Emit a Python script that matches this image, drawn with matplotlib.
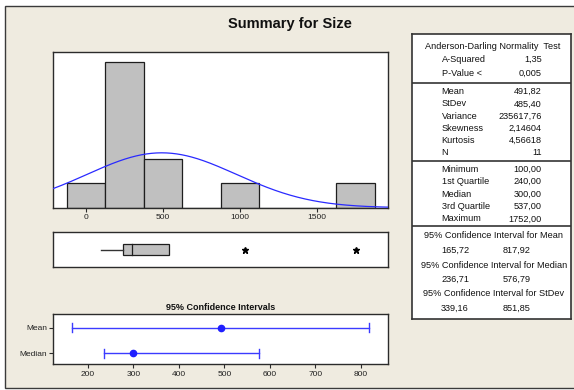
import numpy as np
import matplotlib
matplotlib.use("Agg")
import matplotlib.pyplot as plt
from matplotlib.patches import Rectangle

plt.rcParams['font.family'] = ['Liberation Sans', 'DejaVu Sans']

# ---- data -------------------------------------------------------------
bin_centers = [0, 250, 500, 750, 1000, 1250, 1500, 1750]
bin_counts = [1, 6, 2, 0, 1, 0, 0, 1]
bin_width = 250
hist_ticks = [0, 500, 1000, 1500]

mean_val = 491.82
stdev_val = 485.40
n_obs = 11

box_whisker_lo = 100.0
box_q1 = 240.0
box_median = 300.0
box_q3 = 537.0
box_whisker_hi = 537.0
box_outliers = [1030, 1752]

ci_labels = ["Mean", "Median"]
ci_points = [491.82, 300.00]
ci_lower = [165.72, 236.71]
ci_upper = [817.92, 576.79]
ci_ticks = [200, 300, 400, 500, 600, 700, 800]

ad_rows = [("A-Squared", "1,35"), ("P-Value <", "0,005")]
moment_rows = [("Mean", "491,82"), ("StDev", "485,40"), ("Variance", "235617,76"),
               ("Skewness", "2,14604"), ("Kurtosis", "4,56618"), ("N", "11")]
quantile_rows = [("Minimum", "100,00"), ("1st Quartile", "240,00"), ("Median", "300,00"),
                 ("3rd Quartile", "537,00"), ("Maximum", "1752,00")]
ci_table = [("95% Confidence Interval for Mean", "165,72", "817,92"),
            ("95% Confidence Interval for Median", "236,71", "576,79"),
            ("95% Confidence Interval for StDev", "339,16", "851,85")]

# ---- layout helpers ---------------------------------------------------
W, H = 574, 390
fig = plt.figure(figsize=(W / 100, H / 100), dpi=100)
fig.patch.set_facecolor("white")

def px_axes(x0, y0, x1, y1, **kw):
    """Axes from pixel box (top-left origin)."""
    ax = fig.add_axes([x0 / W, 1 - y1 / H, (x1 - x0) / W, (y1 - y0) / H], **kw)
    ax.set_zorder(5)
    return ax

bg = "#EFEBE0"
edge = "#2b2b2b"
frame = Rectangle((5 / W, 1 - 388 / H), (600 - 5) / W, (388 - 6) / H,
                  transform=fig.transFigure, facecolor=bg,
                  edgecolor="#3a3a3a", lw=1.0, zorder=-10)
fig.patches.append(frame)

fig.text(290 / W, 1 - 24 / H, "Summary for Size", ha="center", va="center",
         fontsize=10.5, fontweight="bold", color="#111111", zorder=6)

tick_fs = 6.0

def style_spines(ax):
    for s in ax.spines.values():
        s.set_color(edge)
        s.set_linewidth(1.0)

# ---- histogram with normal curve -------------------------------------
xl = (-212, 1963)
ax_h = px_axes(53.3, 52.3, 388.3, 207.7)
ax_h.bar(bin_centers, bin_counts, width=bin_width, color="#C0C0C0",
         edgecolor="#1e1e1e", linewidth=0.9, zorder=2)
xs = np.linspace(xl[0], xl[1], 400)
pdf = np.exp(-0.5 * ((xs - mean_val) / stdev_val) ** 2) / (stdev_val * np.sqrt(2 * np.pi))
ax_h.plot(xs, n_obs * bin_width * pdf, color="#2a2aff", lw=0.9, zorder=3)
ax_h.set_xlim(*xl)
ax_h.set_ylim(0, 6.4)
ax_h.set_yticks([])
ax_h.set_xticks(hist_ticks)
ax_h.set_xticklabels([str(t) for t in hist_ticks], fontsize=tick_fs, color="#222222")
ax_h.tick_params(axis="x", length=3, width=0.8, pad=1.5, color=edge)
style_spines(ax_h)

# ---- boxplot ----------------------------------------------------------
ax_b = px_axes(53.3, 232, 388.3, 267)
ax_b.set_xlim(*xl)
ax_b.set_ylim(0, 1)
ax_b.add_patch(Rectangle((box_q1, 0.33), box_q3 - box_q1, 0.34, facecolor="#C0C0C0",
                         edgecolor="#1e1e1e", lw=0.9, zorder=2))
ax_b.plot([box_median, box_median], [0.33, 0.67], color="#1e1e1e", lw=0.9, zorder=3)
ax_b.plot([box_whisker_lo, box_q1], [0.5, 0.5], color="#333333", lw=1.0)
ax_b.plot([box_q3, box_whisker_hi], [0.5, 0.5], color="#333333", lw=1.0)
ax_b.plot(box_outliers, [0.5] * len(box_outliers), linestyle="none", marker="*",
          color="black", markersize=5)
ax_b.set_xticks([])
ax_b.set_yticks([])
style_spines(ax_b)

# ---- confidence intervals --------------------------------------------
ax_c = px_axes(53.3, 314.3, 388.3, 364.3)
ci_y = [1, 0]
blue = "#1f1fff"
for y, p, lo, hi in zip(ci_y, ci_points, ci_lower, ci_upper):
    ax_c.plot([lo, hi], [y, y], color="#3b3bff", lw=1.0)
    ax_c.plot([lo, lo], [y - 0.18, y + 0.18], color="#3b3bff", lw=1.0)
    ax_c.plot([hi, hi], [y - 0.18, y + 0.18], color="#3b3bff", lw=1.0)
    ax_c.plot([p], [y], marker="o", color=blue, markersize=4.5)
ax_c.set_xlim(124.5, 860)
ax_c.set_ylim(-0.43, 1.52)
ax_c.set_xticks(ci_ticks)
ax_c.set_xticklabels([str(t) for t in ci_ticks], fontsize=tick_fs, color="#222222")
ax_c.set_yticks(ci_y)
ax_c.set_yticklabels(ci_labels, fontsize=tick_fs, color="#222222")
ax_c.tick_params(axis="both", length=3, width=0.8, pad=1.5, color=edge)
style_spines(ax_c)
fig.text(220.5 / W, 1 - 307.3 / H, "95% Confidence Intervals", ha="center",
         va="center", fontsize=6.5, fontweight="bold", color="#111111", zorder=6)

# ---- statistics table -------------------------------------------------
tx0, ty0, tx1, ty1 = 411.7, 34.3, 570.7, 319
ax_t = px_axes(tx0, ty0, tx1, ty1)
ax_t.set_xlim(tx0, tx1)
ax_t.set_ylim(ty1, ty0)
ax_t.set_xticks([])
ax_t.set_yticks([])
for s in ax_t.spines.values():
    s.set_color("#333333")
    s.set_linewidth(1.2)
for yy in (82.7, 160.7, 226.0):
    ax_t.plot([tx0, tx1], [yy, yy], color="#444444", lw=1.3)

tfs = 6.6
lab_x, val_x = 441.7, 541.7
ax_t.text(492.5, 46.7, "Anderson-Darling Normality  Test", ha="center", va="center",
          fontsize=tfs, color="#111111")
for (lab, val), yy in zip(ad_rows, [59.5, 73.0]):
    ax_t.text(lab_x, yy, lab, ha="left", va="center", fontsize=tfs, color="#111111")
    ax_t.text(val_x, yy, val, ha="right", va="center", fontsize=tfs, color="#111111")
for i, (lab, val) in enumerate(moment_rows):
    yy = 91.7 + 12.2 * i
    ax_t.text(lab_x, yy, lab, ha="left", va="center", fontsize=tfs, color="#111111")
    ax_t.text(val_x, yy, val, ha="right", va="center", fontsize=tfs, color="#111111")
for i, (lab, val) in enumerate(quantile_rows):
    yy = 169.3 + 12.4 * i
    ax_t.text(lab_x, yy, lab, ha="left", va="center", fontsize=tfs, color="#111111")
    ax_t.text(val_x, yy, val, ha="right", va="center", fontsize=tfs, color="#111111")
for i, (title, lo, hi) in enumerate(ci_table):
    yy = 236.0 + 29.0 * i
    ax_t.text(494, yy, title, ha="center", va="center", fontsize=tfs, color="#111111")
    ax_t.text(441.0, yy + 14.2, lo, ha="left", va="center", fontsize=tfs, color="#111111")
    ax_t.text(503.0, yy + 14.2, hi, ha="left", va="center", fontsize=tfs, color="#111111")

fig.savefig("out.png", dpi=100, facecolor=fig.get_facecolor())
